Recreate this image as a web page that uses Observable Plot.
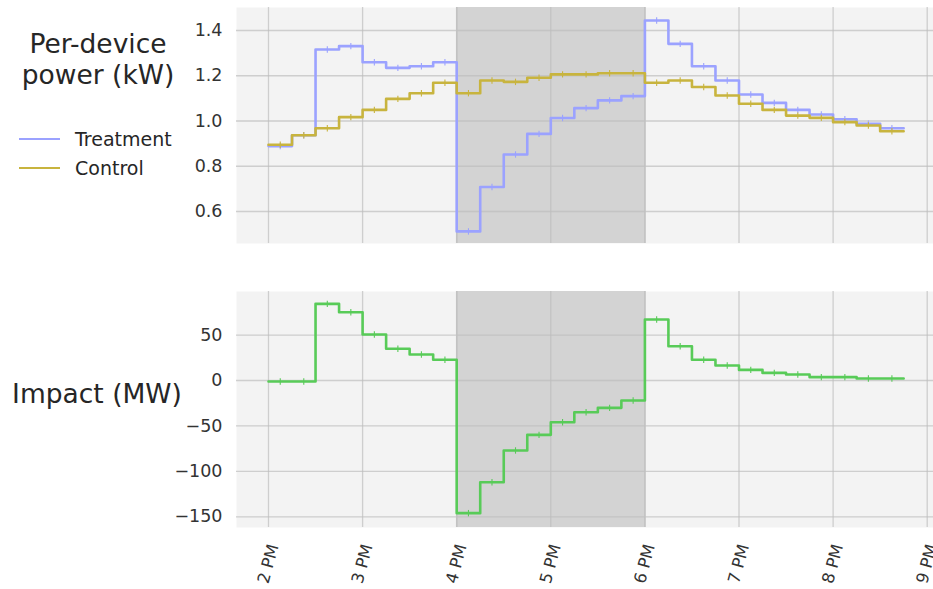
<!DOCTYPE html>
<html><head><meta charset="utf-8">
<script src="https://cdn.jsdelivr.net/npm/d3@7"></script>
<script src="https://cdn.jsdelivr.net/npm/@observablehq/plot@0.6"></script>
<style>
body{margin:0;background:#fff;font-family:"DejaVu Sans",sans-serif;}
#wrap{position:relative;width:933px;height:589px;overflow:hidden;}
#wrap svg{display:block;}
.lab{position:absolute;font-size:26.5px;color:#262626;text-align:center;line-height:31px;white-space:nowrap;}
.leg{position:absolute;left:19px;font-size:19px;color:#262626;}
.leg div{display:flex;align-items:center;height:29px;}
.leg span.sw{display:inline-block;width:41px;height:0;border-top:2.5px solid;margin-right:15px;}
</style></head><body><div id="wrap"></div>
<script>
// 15-minute interval start times
const times = ["14:00","14:15","14:30","14:45","15:00","15:15","15:30","15:45",
  "16:00","16:15","16:30","16:45","17:00","17:15","17:30","17:45",
  "18:00","18:15","18:30","18:45","19:00","19:15","19:30","19:45",
  "20:00","20:15","20:30"];
const treatment = [0.889,0.937,1.316,1.331,1.260,1.235,1.242,1.260,
  0.512,0.708,0.852,0.943,1.013,1.057,1.091,1.110,
  1.444,1.341,1.242,1.179,1.117,1.080,1.049,1.029,1.008,0.988,0.968];
const control = [0.895,0.937,0.968,1.017,1.049,1.098,1.123,1.169,
  1.123,1.179,1.173,1.191,1.206,1.206,1.211,1.211,
  1.169,1.179,1.150,1.113,1.076,1.049,1.024,1.014,0.995,0.980,0.955];
const impact = [-1,-1,84.4,75.2,50.6,34.9,28.6,22.8,
  -146,-112,-77,-59.8,-45.9,-34.9,-30.1,-22.0,
  67.2,37.8,22.8,16.5,11.7,8.4,6.6,3.7,3.7,2.2,2.2];
const eventWindow = ["16:00","18:00"];
const hourTicks = [14,15,16,17,18,19,20,21];
const hourLabels = ["2 PM","3 PM","4 PM","5 PM","6 PM","7 PM","8 PM","9 PM"];
const topTicks = [0.6,0.8,1.0,1.2,1.4];
const bottomTicks = [-150,-100,-50,0,50];
const seriesNames = ["Treatment","Control"];
const colors = {Treatment:"#9ba2ff", Control:"#c8b43e", Impact:"#58cb58"};

const toH = s => { const [h,m] = s.split(":"); return +h + (+m)/60; };
const hrs = times.map(toH);
const step = 0.25;
function rows(vals){
  const r = vals.map((v,i)=>({t:hrs[i], v, c:hrs[i]+step/2}));
  r.push({t:hrs[hrs.length-1]+step, v:vals[vals.length-1]});
  return r;
}
const errSym = {draw(ctx, size){ const h = Math.sqrt(size/Math.PI); ctx.moveTo(0,-h); ctx.lineTo(0,h); }};
const win = [{x1:toH(eventWindow[0]), x2:toH(eventWindow[1])}];
const winEdges = eventWindow.map(toH);
const xDomain = [13.66, 21.067];

function base(yTicks){
  return [
    Plot.frame({fill:"#f3f3f3", stroke:null}),
    Plot.rect(win, {x1:"x1", x2:"x2", fill:"#d3d3d3"}),
    Plot.gridX(hourTicks, {stroke:"#bdbdbd", strokeOpacity:0.7, strokeWidth:1.3}),
    Plot.gridY(yTicks, {stroke:"#bdbdbd", strokeOpacity:0.7, strokeWidth:1.3}),
    Plot.ruleX(winEdges, {stroke:"#c2c2c2", strokeWidth:1.5})
  ];
}
function series(vals, color){
  const r = rows(vals);
  return [
    Plot.line(r, {x:"t", y:"v", curve:"step-after", stroke:color, strokeWidth:2.6}),
    Plot.dot(r.slice(0,-1), {x:"c", y:"v", symbol:errSym, r:3.2, stroke:color, fill:"none", strokeWidth:1.1})
  ];
}

const topChart = Plot.plot({
  width:933, height:270, marginLeft:236, marginRight:0, marginTop:7, marginBottom:27,
  style:{fontFamily:"DejaVu Sans", fontSize:"17px", color:"#333", background:"transparent"},
  x:{domain:xDomain, axis:null},
  y:{domain:[0.4586,1.5017]},
  marks:[
    ...base(topTicks),
    Plot.axisY(topTicks, {tickSize:0, tickPadding:14, tickFormat:d3.format(".1f"), label:null, fontSize:17.5}),
    ...series(treatment, colors.Treatment),
    ...series(control, colors.Control)
  ]
});

const bottomChart = Plot.plot({
  width:933, height:319, marginLeft:236, marginRight:0, marginTop:21, marginBottom:62,
  style:{fontFamily:"DejaVu Sans", fontSize:"17px", color:"#333", background:"transparent"},
  x:{domain:xDomain},
  y:{domain:[-161.8,98]},
  marks:[
    ...base(bottomTicks),
    Plot.axisY(bottomTicks, {tickSize:0, tickPadding:14, label:null, fontSize:17.5}),
    Plot.axisX(hourTicks, {tickSize:0, tickPadding:17, tickRotate:-75, dx:5, label:null, fontSize:16.5,
      tickFormat:d => hourLabels[hourTicks.indexOf(d)]}),
    ...series(impact, colors.Impact)
  ]
});

const wrap = document.getElementById("wrap");
wrap.appendChild(topChart);
wrap.appendChild(bottomChart);

const l1 = document.createElement("div");
l1.className = "lab"; l1.style.left = "0px"; l1.style.width = "196px"; l1.style.top = "28px";
l1.innerHTML = "Per-device<br>power (kW)";
wrap.appendChild(l1);
const l2 = document.createElement("div");
l2.className = "lab"; l2.style.left = "0px"; l2.style.width = "194px"; l2.style.top = "378px";
l2.textContent = "Impact (MW)";
wrap.appendChild(l2);

const leg = document.createElement("div");
leg.className = "leg"; leg.style.top = "124px";
seriesNames.forEach(n => {
  const d = document.createElement("div");
  d.innerHTML = `<span class="sw" style="border-color:${colors[n]}"></span><span>${n}</span>`;
  leg.appendChild(d);
});
wrap.appendChild(leg);
</script>
</body></html>
